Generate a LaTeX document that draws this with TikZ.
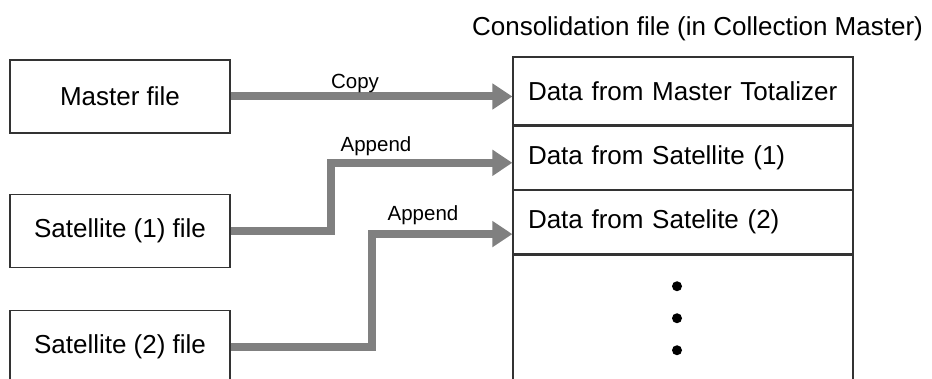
\documentclass[tikz,border=0pt]{standalone}
\usepackage{fontspec}
\setmainfont{Liberation Sans}
\usetikzlibrary{arrows.meta, positioning}
\definecolor{flowcol}{HTML}{808080}
\definecolor{edgecol}{HTML}{333333}

\begin{document}
\begin{tikzpicture}[x=1pt, y=-1pt,
  filebox/.style={draw=edgecol, line width=1.3pt, minimum width=220pt,
    minimum height=73pt, font=\fontsize{26}{30}\selectfont},
  rowbox/.style={draw=edgecol, line width=1.3pt, minimum width=340pt,
    text width=310pt, inner xsep=15pt, align=left,
    font=\fontsize{26}{30}\selectfont},
  flow/.style={draw=flowcol, line width=8pt,
    -{Triangle[length=20pt, width=25pt]}},
  flowlbl/.style={font=\fontsize{20.5}{24}\selectfont}]

\useasboundingbox (0,0) rectangle (932,379);

% source files
\node[filebox] (master) at (120,96.5) {Master file};
\node[filebox, below=60pt of master] (sat1) {Satellite (1) file};
\node[filebox, below=42pt of sat1] (sat2) {Satellite (2) file};

% consolidation file
\node[font=\fontsize{26}{30}\selectfont] (title) at (697.5,29)
  {Consolidation file (in Collection Master)};
\node[rowbox, minimum height=68pt] (data1) at (683,91) {Data from Master Totalizer};
\node[rowbox, minimum height=63pt, below=0pt of data1] (data2) {Data from Satellite (1)};
\node[rowbox, minimum height=63pt, below=0pt of data2] (data3) {Data from Satelite (2)};
\node[rowbox, minimum height=140pt, below=0pt of data3] (data4) {};
\foreach \k in {1,2,3}
  \fill ([xshift=-6pt, yshift={-32pt*\k}]data4.north) circle (5pt);

% transfers
\draw[flow] (master.east) -- (master.east -| data1.west);
\draw[flow] (sat1.east) -- ++(100,0) |- ([yshift=-5pt]data2.west);
\draw[flow] (sat2.east) -- ++(141,0) |- ([yshift=-12pt]data3.west);

\node[flowlbl] (copylbl) at (355,83) {Copy};
\node[flowlbl] (app1lbl) at (376,146) {Append};
\node[flowlbl] (app2lbl) at (423,215.5) {Append};

\end{tikzpicture}
\end{document}
